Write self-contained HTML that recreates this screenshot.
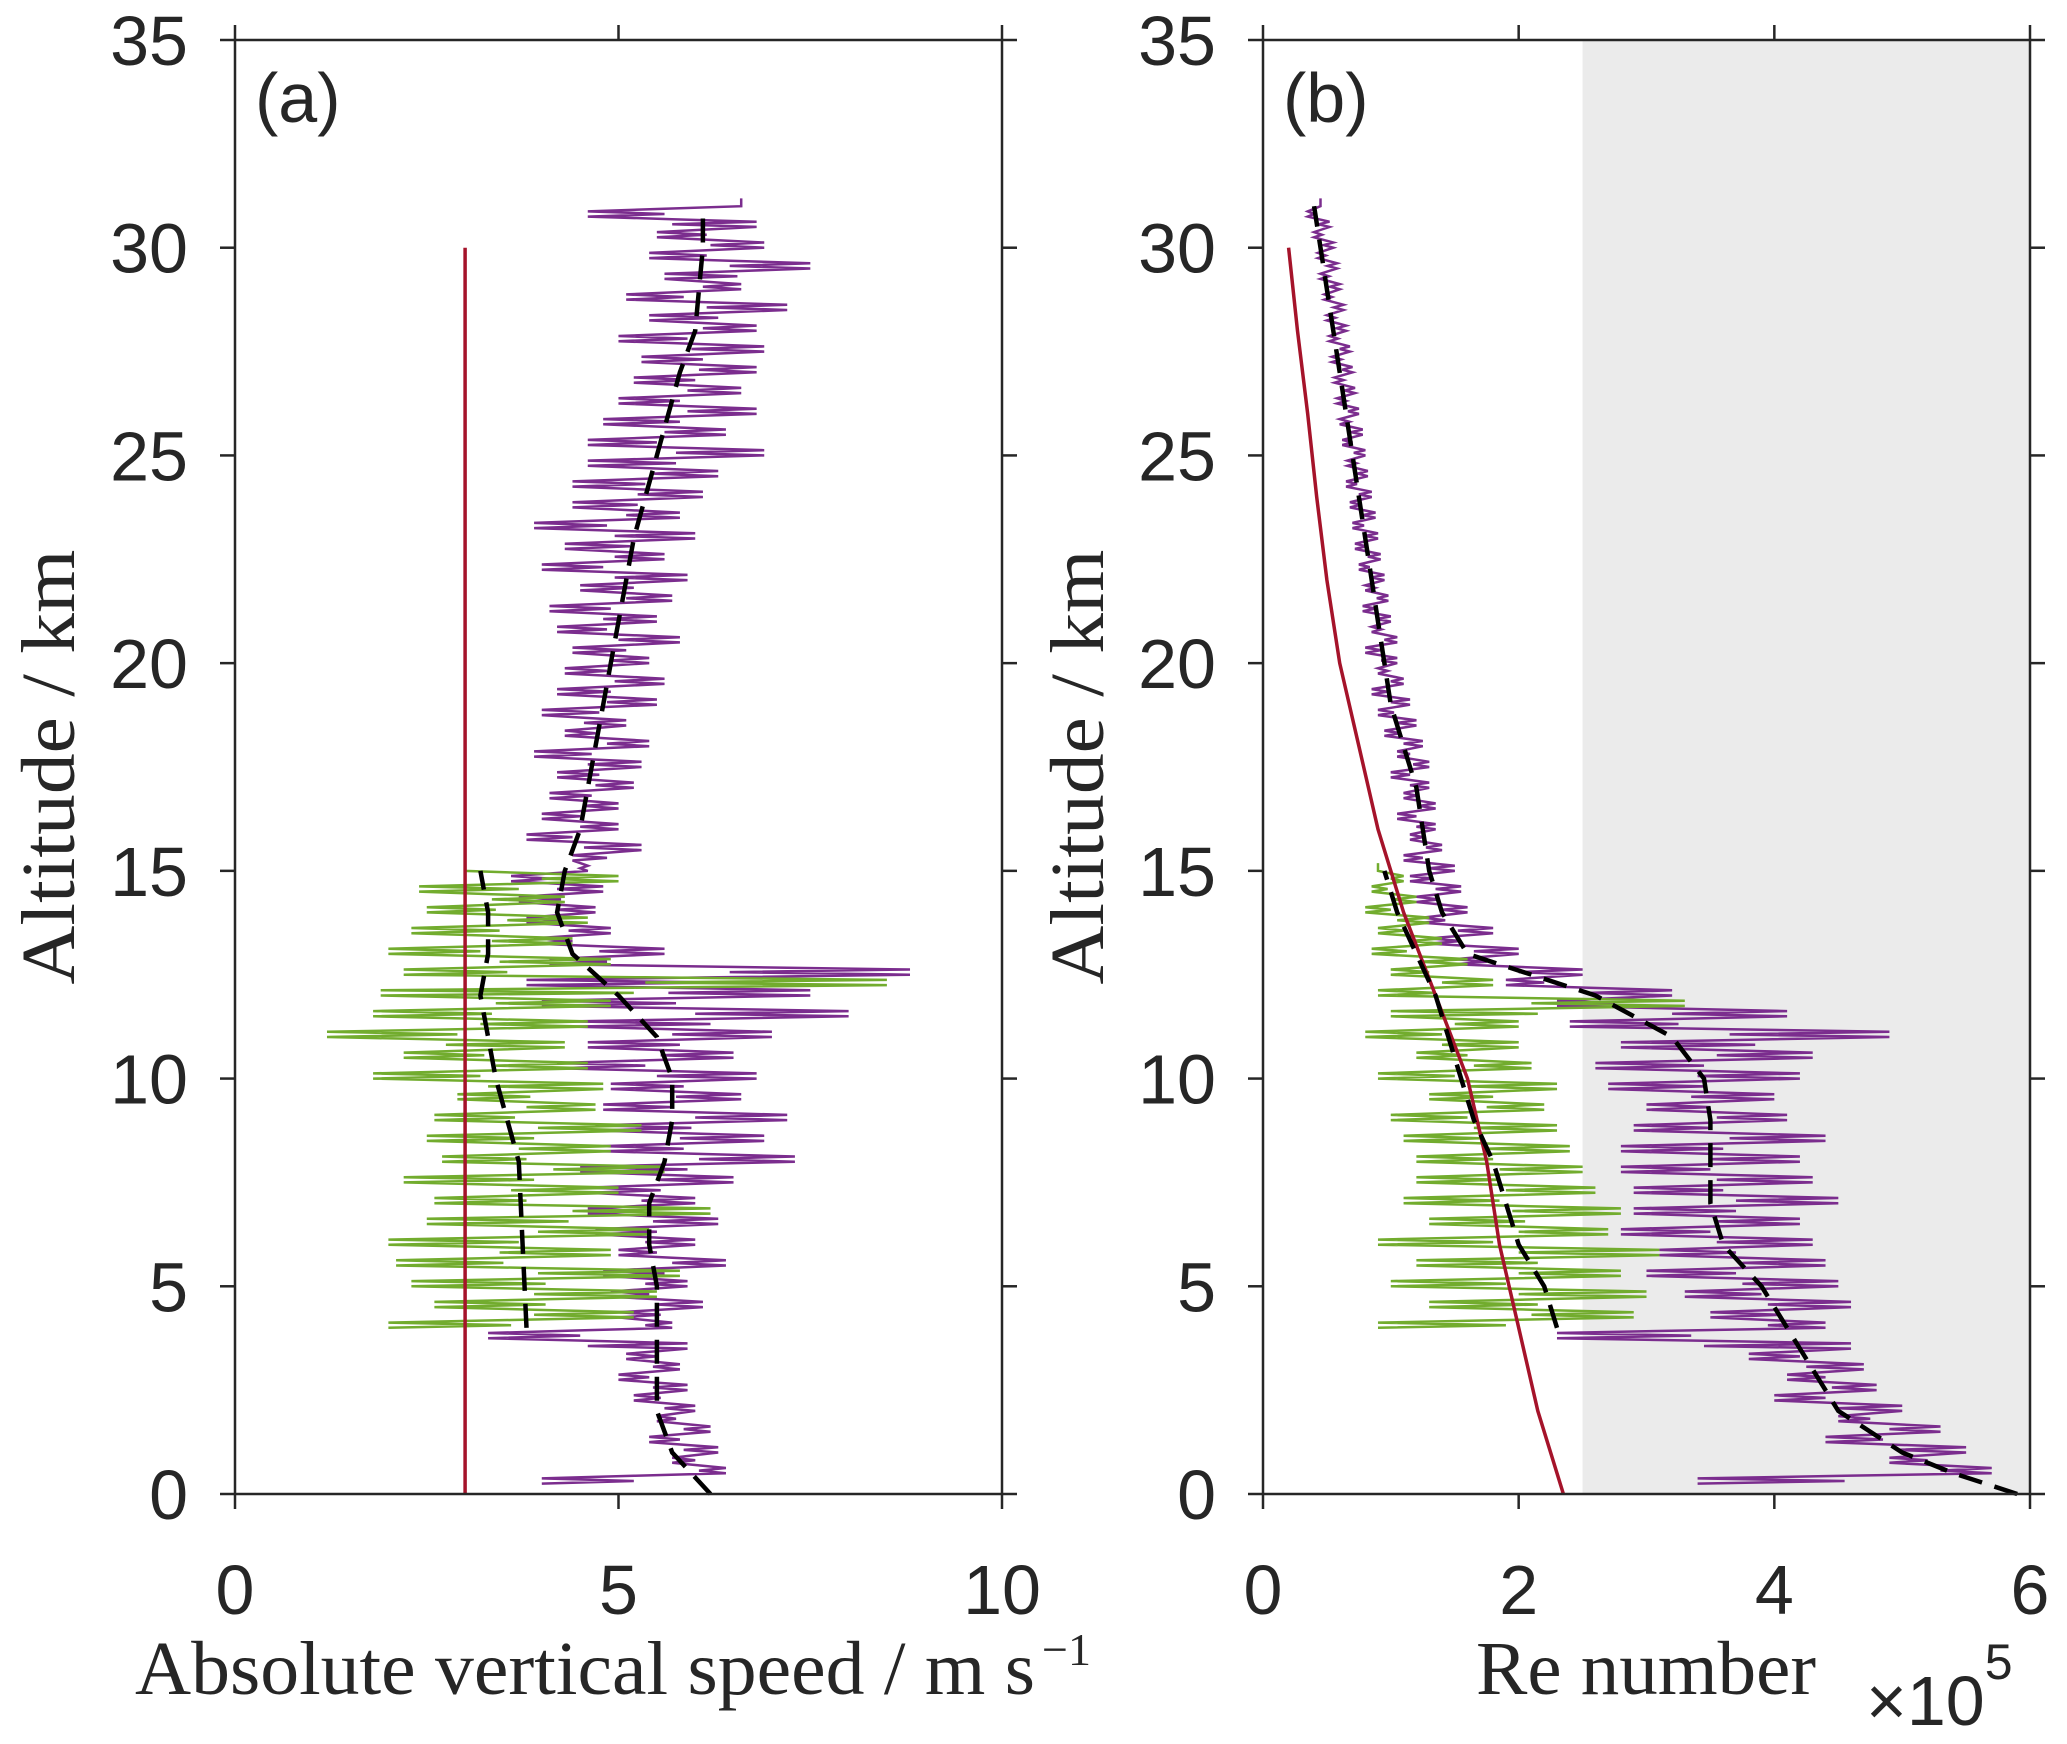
<!DOCTYPE html>
<html><head><meta charset="utf-8"><style>
html,body{margin:0;padding:0;background:#fff;}
svg{display:block;}
.tick{font-family:"Liberation Sans",sans-serif;font-size:70px;fill:#262626;}
.lab{font-family:"Liberation Serif",serif;font-size:76px;fill:#262626;}
</style></head><body>
<svg id="chart" width="2067" height="1744" viewBox="0 0 2067 1744" xmlns="http://www.w3.org/2000/svg"></svg>
<script>
// ---------- DATA ----------
const altStep = 0.25;
const purpleAStart = 0.25;
const purpleA = [4.0,6.4,5.7,6.3, 5.4,6.2,5.5,6.0, 5.2,5.9,5.0,5.8, 5.1,5.9,3.3,5.7, 5.0,6.1,4.9,5.9,
 4.8,6.4,5.0,6.0, 4.7,6.3,4.6,6.0, 4.6,6.5,4.5,7.3, 4.8,6.9,4.7,7.2, 4.8,6.6,4.9,6.8,
 4.2,6.5,4.6,7.0, 4.4,8.0,4.0,7.5, 3.8,8.8,4.1,5.6, 3.9,4.9,3.8,4.7, 3.7,4.8,3.6,4.6,
 4.4,5.3,3.8,5.0, 4.0,5.0,4.1,5.2, 4.2,5.3,3.9,5.4, 4.3,5.1,4.0,5.5, 4.2,5.6,4.3,5.4,
 4.4,5.8,4.2,5.5, 4.1,5.7,4.5,5.9, 4.0,5.6,4.3,6.0, 3.9,5.8,4.4,6.1, 4.4,6.3,4.6,6.9,
 4.6,6.4,4.8,6.8, 5.0,6.6,5.2,6.8, 5.3,6.9,5.0,6.8, 5.4,7.2,5.1,6.6, 5.6,7.5,5.4,6.9,
 5.5,6.8,4.6,6.6];
const greenStart = 4.0;
const greenA = [2.0,5.2,2.6,5.5, 2.3,5.8,2.1,4.9, 2.0,5.4,2.5,6.2, 2.6,5.0,2.2,5.6, 2.7,4.9,2.5,5.3,
 2.6,4.7,2.9,4.8, 1.8,4.6,2.2,4.3, 1.2,4.6,1.8,4.9, 1.9,8.5,2.2,4.9, 2.0,4.4,2.3,4.6,
 2.5,4.3,2.4,5.0, 3.0];
const meanAltA = [0,1,2,3,4,5,6,7,8,9,10,11,12,13,14,15,16,17,18,19,20,21,22,23,24,25,26,27,28,29,30,31];
const meanPurpleA = [6.2,5.7,5.5,5.5,5.5,5.5,5.4,5.4,5.6,5.7,5.7,5.5,5.0,4.4,4.2,4.3,4.5,4.6,4.7,4.8,4.9,5.0,5.1,5.2,5.35,5.5,5.65,5.8,6.0,6.05,6.1,6.1];
const meanGreenAltA = [4,6,8,10,12,13,14,15];
const meanGreenA = [3.8,3.75,3.7,3.4,3.2,3.3,3.3,3.2];
const redAlt = [0,30];
const redA = [3.0,3.0];

const purpleB = [3.4,5.7,4.9,5.5, 4.4,5.3,4.5,5.0, 4.0,4.8,4.1,4.7, 3.8,4.6,2.3,4.4, 3.5,4.6,3.3,4.5,
 3.0,4.4,3.1,4.3, 2.8,4.2,2.9,4.5, 2.9,4.3,2.8,4.2, 2.8,4.4,2.9,4.1, 3.0,4.0,2.7,4.2,
 2.6,4.3,2.8,4.9, 2.4,4.1,2.3,3.2, 1.9,2.5,1.5,2.0, 1.3,1.8,1.25,1.6, 1.2,1.55,1.15,1.5,
 1.1,1.4,1.15,1.35, 1.05,1.35,1.1,1.3, 1.0,1.3,1.05,1.25, 0.95,1.2,0.9,1.15, 0.85,1.1,0.9,1.05,
 0.8,1.05,0.85,1.0, 0.78,0.98,0.8,0.95, 0.75,0.92,0.72,0.9, 0.7,0.88,0.68,0.85, 0.65,0.82,0.66,0.8,
 0.62,0.78,0.6,0.75, 0.58,0.72,0.56,0.7, 0.54,0.68,0.52,0.65, 0.5,0.63,0.48,0.6, 0.45,0.58,0.43,0.55,
 0.4,0.52,0.35,0.45];
const greenB = [0.9,2.9,1.3,3.0, 1.0,2.8,1.2,3.1, 0.9,2.7,1.3,2.8, 1.1,2.6,1.2,2.5, 1.2,2.4,1.1,2.3,
 1.0,2.2,1.3,2.3, 0.9,2.1,1.2,2.0, 0.8,2.0,1.0,3.3, 0.9,1.8,1.0,1.6, 0.85,1.4,0.9,1.3,
 0.8,1.2,0.85,1.1, 0.9];
const meanAltB = [0,0.5,1,2,3,4,5,6,7,8,9,10,11,12,12.5,13,14,15,16,17,18,19,20,21,22,23,24,25,26,27,28,29,30,31];
const meanPurpleB = [5.9,5.4,5.0,4.5,4.3,4.1,3.9,3.6,3.5,3.5,3.5,3.45,3.2,2.6,2.1,1.6,1.4,1.3,1.25,1.2,1.1,1.0,0.95,0.9,0.85,0.8,0.75,0.7,0.65,0.6,0.55,0.5,0.45,0.4];
const meanGreenAltB = [4,5,6,7,8,9,10,11,12,13,14,15];
const meanGreenB = [2.3,2.2,2.0,1.9,1.8,1.65,1.55,1.45,1.35,1.2,1.05,0.95];
const redAltB = [0,2,4,6,8,10,12,14,16,18,20,22,24,26,28,30];
const redB = [2.35,2.15,2.0,1.85,1.75,1.6,1.35,1.1,0.9,0.75,0.6,0.5,0.42,0.35,0.27,0.2];

const yTicks = [0,5,10,15,20,25,30,35];
const xTicksA = [0,5,10];
const xTicksB = [0,2,4,6];
const shadeFrom = 2.5;

// ---------- DRAW ----------
const NS = "http://www.w3.org/2000/svg";
const svg = document.getElementById('chart');
const TOP = 40, BOT = 1494;
const yS = a => BOT - a / 35 * (BOT - TOP);
function mk(tag, attrs, parent) {
  const e = document.createElementNS(NS, tag);
  for (const k in attrs) e.setAttribute(k, attrs[k]);
  (parent || svg).appendChild(e);
  return e;
}
function panel(L, R, xmax, xt, id) {
  const xS = v => L + v / xmax * (R - L);
  const g = mk('g', {});
  
  
  return {xS, g, L, R, xt, id};
}
function series(p, vals, start, color, w, name) {
  let d = '';
  const sub = 4;
  for (let i = 0; i < vals.length; i++) {
    const y0 = yS(start + i * altStep);
    const v = vals[i];
    const nv = i + 1 < vals.length ? vals[i + 1] : v;
    for (let k = 0; k < sub; k++) {
      const y = y0 - k * (yS(0) - yS(altStep)) / sub;
      const val = k % 2 === 0 ? v : v + (nv - v) * 0.5;
      d += (d ? 'L' : 'M') + p.xS(val).toFixed(1) + ',' + y.toFixed(1);
    }
  }
  const e = mk('path', {d: d, fill: 'none', stroke: color, 'stroke-width': w}, p.g);
  
  
}
function line(p, alts, vals, color, w, dash, name) {
  const pts = vals.map((v, i) => p.xS(v).toFixed(1) + ',' + yS(alts[i]).toFixed(1)).join(' ');
  const a = {points: pts, fill: 'none', stroke: color, 'stroke-width': w};
  if (dash) a['stroke-dasharray'] = dash;
  const e = mk('polyline', a, p.g);
  
  
}
function axes(p, letter, ylx) {
  const c = '#262626';
  const box = mk('rect', {x: p.L, y: TOP, width: p.R - p.L, height: BOT - TOP, fill: 'none', stroke: c, 'stroke-width': 2.5}, p.g);
  
  
  yTicks.forEach(t => {
    const y = yS(t);
    mk('line', {x1: p.L - 15, x2: p.L, y1: y, y2: y, stroke: c, 'stroke-width': 2.5}, p.g);
    mk('line', {x1: p.R, x2: p.R + 15, y1: y, y2: y, stroke: c, 'stroke-width': 2.5}, p.g);
    const tx = mk('text', {x: p.L - 47, y: y + 25, 'text-anchor': 'end', class: 'tick'}, p.g);
    tx.textContent = t;
    
    
  });
  p.xt.forEach(t => {
    const x = p.xS(t);
    mk('line', {x1: x, x2: x, y1: BOT, y2: BOT + 15, stroke: c, 'stroke-width': 2.5}, p.g);
    mk('line', {x1: x, x2: x, y1: TOP - 15, y2: TOP, stroke: c, 'stroke-width': 2.5}, p.g);
    const tx = mk('text', {x: x, y: 1614, 'text-anchor': 'middle', class: 'tick'}, p.g);
    tx.textContent = t;
    
    
  });
  const pl = mk('text', {x: p.L + 20, y: 122, class: 'tick'}, p.g);
  pl.textContent = '(' + letter + ')';
  
  
  const yl = mk('text', {x: 0, y: 0, 'text-anchor': 'middle', class: 'lab', textLength: 435, lengthAdjust: 'spacingAndGlyphs', transform: 'translate(' + ylx + ',767) rotate(-90)'}, p.g);
  yl.textContent = 'Altitude / km';
  
  
}

// Panel a
const pa = panel(235, 1002, 10, xTicksA, 'a');
series(pa, purpleA, purpleAStart, '#7B2D8E', 2.5, 'purple-speed-series');
series(pa, greenA, greenStart, '#72AC2E', 2.5, 'green-speed-series');
line(pa, redAlt, redA, '#A5132A', 3.5, null, 'red-reference-line');
line(pa, meanAltA, meanPurpleA, '#000', 4.5, '24,13', 'purple-mean-dashed');
line(pa, meanGreenAltA, meanGreenA, '#000', 4.5, '24,13', 'green-mean-dashed');
axes(pa, 'a', 74);
const xla = mk('text', {x: 135, y: 1694, class: 'lab', textLength: 900, lengthAdjust: 'spacingAndGlyphs'});
xla.textContent = 'Absolute vertical speed / m s';


const sup = mk('text', {x: 1042, y: 1665, class: 'lab', style: 'font-size:46px'});
sup.textContent = '−1';



// Panel b
const pb = panel(1263, 2030, 6, xTicksB, 'b');
const sh = mk('rect', {x: pb.xS(shadeFrom), y: TOP, width: pb.R - pb.xS(shadeFrom), height: BOT - TOP, fill: '#EBEBEB'}, pb.g);


series(pb, purpleB, purpleAStart, '#7B2D8E', 2.5, 'purple-re-series');
series(pb, greenB, greenStart, '#72AC2E', 2.5, 'green-re-series');
line(pb, redAltB, redB, '#A5132A', 3.5, null, 'red-re-curve');
line(pb, meanAltB, meanPurpleB, '#000', 4.5, '24,13', 'purple-re-mean-dashed');
line(pb, meanGreenAltB, meanGreenB, '#000', 4.5, '24,13', 'green-re-mean-dashed');
axes(pb, 'b', 1103);
const xlb = mk('text', {x: 1476, y: 1694, class: 'lab', textLength: 340, lengthAdjust: 'spacingAndGlyphs'});
xlb.textContent = 'Re number';


const ex = mk('text', {x: 1866, y: 1725, class: 'tick', style: 'font-size:70px'});
ex.innerHTML = '×10<tspan dy="-46" style="font-size:50px">5</tspan>';


</script>
</body></html>
